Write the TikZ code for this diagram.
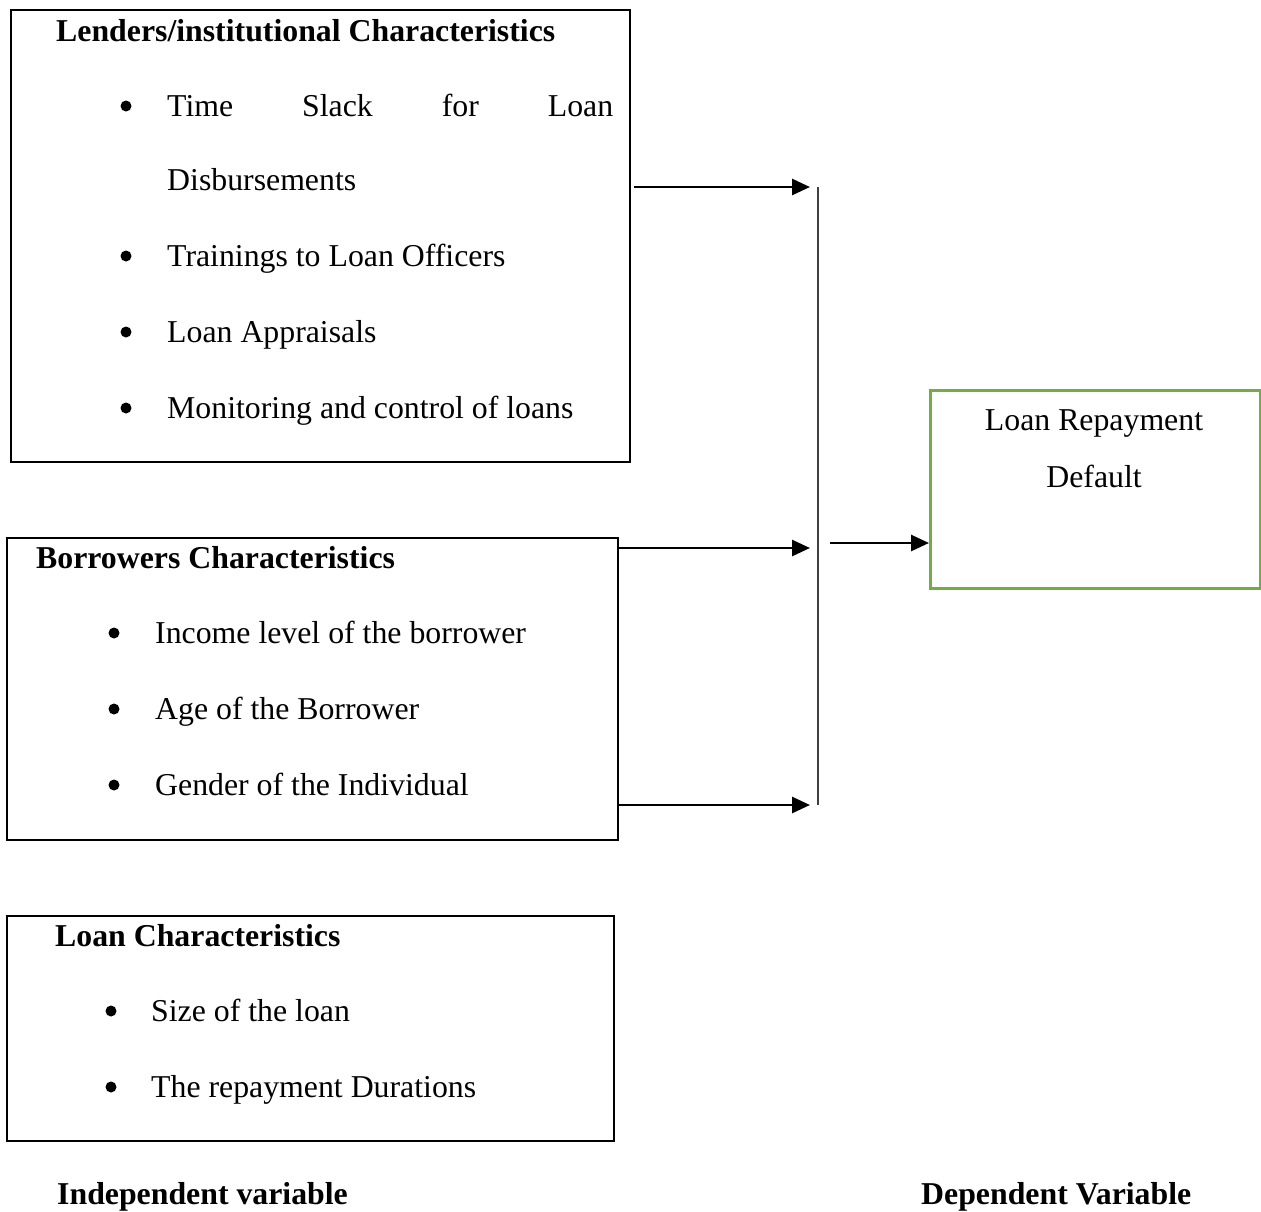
\documentclass[tikz,border=0pt]{standalone}
\usepackage{fontspec}
\setmainfont{Liberation Serif}
\usetikzlibrary{arrows.meta}
\definecolor{boxgreen}{RGB}{112,173,71}
\begin{document}
\begin{tikzpicture}[x=1pt,y=-1pt]
		\fontsize{31.8}{38}\selectfont
		\tikzset{
			panel/.style={draw=black, line width=2.2pt, anchor=north west, inner sep=0pt},
			item/.style={anchor=base west, inner sep=0pt},
			head/.style={anchor=base west, inner sep=0pt, font=\bfseries},
			dot/.style={circle, fill=black, minimum size=11pt, inner sep=0pt},
			link/.style={line width=2.8pt, -{Triangle[length=18pt,width=16pt]}},
		}
		\useasboundingbox (0,0) rectangle (1261,1211);
		
		% The three boxes of independent variables, and the outcome box.
		\node[panel, minimum width=619, minimum height=452] (lenders) at (10,9) {};
		\node[panel, minimum width=611, minimum height=302] (borrowers) at (6,537) {};
		\node[panel, minimum width=607, minimum height=225] (loans) at (6,915) {};
		\node[panel, draw=boxgreen, line width=2.6pt, minimum width=330, minimum height=198] (outcome) at (929,389) {};
		
		% Box titles.
		\node[head] (lenders-t) at (56,41) {Lenders/institutional Characteristics};
		\node[head] (borrowers-t) at (36,568) {Borrowers Characteristics};
		\node[head] (loans-t) at (55,946) {Loan Characteristics};
		
		% Lender items.
		\node[item, text width=446, align=justify] (l1) at (167,116) {Time\hfill Slack\hfill for\hfill Loan};
		\node[item] (l1b) at (167,190) {Disbursements};
		\node[item] (l2) at (167,266) {Trainings to Loan Officers};
		\node[item] (l3) at (167,342) {Loan Appraisals};
		\node[item] (l4) at (167,418) {Monitoring and control of loans};
		\foreach \y [count=\i] in {106,256,332,408}
			\node[dot] (ld\i) at (126,\y) {};
		
		% Borrower items.
		\node[item] (b1) at (155,643) {Income level of the borrower};
		\node[item] (b2) at (155,719) {Age of the Borrower};
		\node[item] (b3) at (155,795) {Gender of the Individual};
		\foreach \y [count=\i] in {633,709,785}
			\node[dot] (bd\i) at (114,\y) {};
		
		% Loan items.
		\node[item] (c1) at (151,1021) {Size of the loan};
		\node[item] (c2) at (151,1097) {The repayment Durations};
		\foreach \y [count=\i] in {1011,1087}
			\node[dot] (cd\i) at (111,\y) {};
		
		% Outcome text.
		\node[anchor=base, inner sep=0pt] (out1) at (1094,430) {Loan Repayment};
		\node[anchor=base, inner sep=0pt] (out2) at (1094,487) {Default};
		
		% Footer labels.
		\node[head] (indep) at (57,1204) {Independent variable};
		\node[head] (dep) at (921,1204) {Dependent Variable};
		
		% Joining bar and the arrows into it.
		\coordinate (bar-top) at (818,187);
		\coordinate (bar-bot) at (818,805);
		\coordinate (bar-mid) at (818,548);
		\draw[line width=1.5pt, black!75] (bar-top) -- (bar-bot);
		\coordinate (s1) at (634,187);
		\coordinate (bar-out) at (830,543);
		\draw[link, shorten >=8pt] (s1) -- (bar-top);
		\draw[link, shorten >=8pt] (borrowers.north east |- bar-mid) -- (bar-mid);
		\draw[link, shorten >=8pt] (borrowers.north east |- bar-bot) -- (bar-bot);
		\draw[link] (bar-out) -- (outcome.west |- bar-out);
	\end{tikzpicture}
\end{document}
